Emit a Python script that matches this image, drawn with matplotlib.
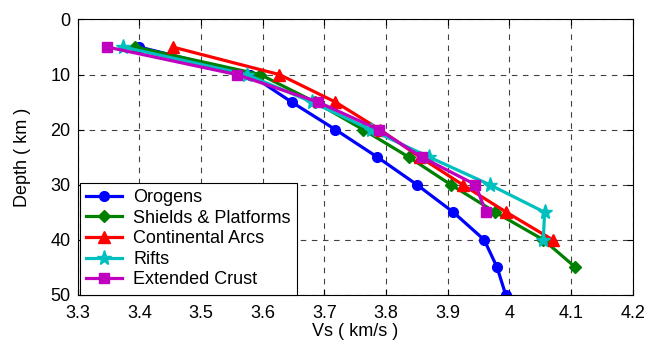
import matplotlib
matplotlib.use("Agg")
import matplotlib.pyplot as plt

# depth (km) and shear velocity (km/s)
depth_orogens = [5, 10, 15, 20, 25, 30, 35, 40, 45, 50]
vs_orogens = [3.40, 3.58, 3.647, 3.718, 3.786, 3.85, 3.909, 3.959, 3.98, 3.994]

depth_shields = [5, 10, 15, 20, 25, 30, 35, 40, 45]
vs_shields = [3.393, 3.596, 3.685, 3.763, 3.837, 3.905, 3.977, 4.055, 4.107]

depth_arcs = [5, 10, 15, 20, 25, 30, 35, 40]
vs_arcs = [3.454, 3.627, 3.718, 3.79, 3.855, 3.924, 3.995, 4.07]

depth_rifts = [5, 10, 15, 20, 25, 30, 35, 40]
vs_rifts = [3.374, 3.574, 3.68, 3.775, 3.87, 3.968, 4.057, 4.055]

depth_ext = [5, 10, 15, 20, 25, 30, 35]
vs_ext = [3.348, 3.558, 3.69, 3.788, 3.858, 3.945, 3.962]

x_ticks = [3.3, 3.4, 3.5, 3.6, 3.7, 3.8, 3.9, 4.0, 4.1, 4.2]
x_tick_labels = ["3.3", "3.4", "3.5", "3.6", "3.7", "3.8", "3.9", "4", "4.1", "4.2"]
y_ticks = [0, 10, 20, 30, 40, 50]

plt.rcParams['font.family'] = ['Liberation Sans', 'DejaVu Sans']
plt.rcParams['font.size'] = 13

fig = plt.figure(figsize=(6.47, 3.42), dpi=100)
ax = fig.add_axes([0.12, 0.138, 0.858, 0.805])

series = [
    (vs_orogens, depth_orogens, 'Orogens', (0, 0, 1), 'o', 7),
    (vs_shields, depth_shields, 'Shields & Platforms', (0, 0.5, 0), 'D', 6),
    (vs_arcs, depth_arcs, 'Continental Arcs', (1, 0, 0), '^', 8),
    (vs_rifts, depth_rifts, 'Rifts', (0, 0.75, 0.75), '*', 11),
    (vs_ext, depth_ext, 'Extended Crust', (0.75, 0, 0.75), 's', 7),
]
for vs, dep, name, col, mk, ms in series:
    ax.plot(vs, dep, color=col, marker=mk, markersize=ms, linewidth=2.3,
            markerfacecolor=col, markeredgecolor=col, label=name)

ax.set_xlim(3.3, 4.2)
ax.set_ylim(50, 0)
ax.set_xticks(x_ticks)
ax.set_xticklabels(x_tick_labels)
ax.set_yticks(y_ticks)
ax.grid(True, color='black', linestyle=(0, (5, 5)), linewidth=0.8, alpha=0.75)
ax.tick_params(direction='in', top=True, right=True, length=4, width=0.8)
ax.tick_params(axis='x', pad=7)
ax.tick_params(axis='y', pad=5)
for sp in ax.spines.values():
    sp.set_linewidth(0.8)

ax.set_xlabel('Vs ( km/s )', labelpad=1)
ax.set_ylabel('Depth ( km )', labelpad=14)

leg = ax.legend(loc='lower left', bbox_to_anchor=(0.004, 0.0), fancybox=False,
                framealpha=1, edgecolor='black', handlelength=2.0,
                labelspacing=0.2, borderaxespad=0.0, borderpad=0.35,
                handletextpad=0.6)
leg.get_frame().set_linewidth(0.8)

fig.savefig('out.png', dpi=100)
